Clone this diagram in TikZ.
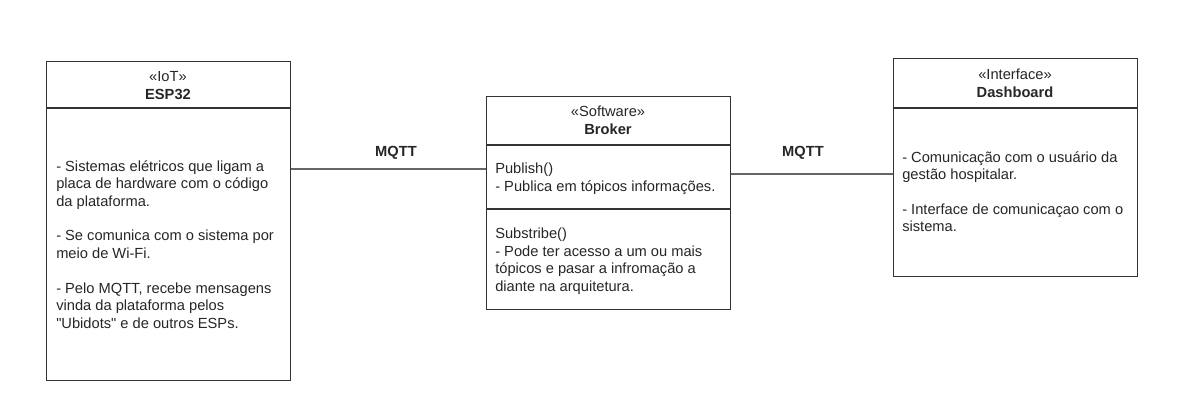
\documentclass[tikz,border=0pt]{standalone}
\usepackage{fontspec}
\setmainfont{Liberation Sans}
\begin{document}
\begin{tikzpicture}[x=0.75pt, y=-0.75pt,
    umlbox/.style={rectangle, draw=black!80, line width=1.1pt, minimum width=183pt, inner sep=0pt, anchor=north west},
    sepline/.style={draw=black!80, line width=1.1pt},
    header/.style={align=center, inner sep=0pt, text=black!85, font=\fontsize{11}{13.5}\selectfont},
    bodytext/.style={align=left, inner sep=0pt, anchor=north west, text=black!85, font=\fontsize{11}{13.1}\selectfont},
    link/.style={draw=black!60, line width=0.8pt},
    linklabel/.style={inner sep=0pt, text=black!85, font=\fontsize{11}{13}\selectfont\bfseries}]
    \useasboundingbox (0,0) rectangle (1177,412);

    % Boxes
    \node[umlbox, minimum height=239.25pt] (esp) at (46,61) {};
    \node[umlbox, minimum height=159.75pt] (broker) at (486,96) {};
    \node[umlbox, minimum height=163.5pt] (dash) at (893,58) {};

    % Compartment lines
    \draw[sepline] (esp.north west) ++(0,47) -- ++(244,0);
    \draw[sepline] (broker.north west) ++(0,49) -- ++(244,0);
    \draw[sepline] (broker.north west) ++(0,113) -- ++(244,0);
    \draw[sepline] (dash.north west) ++(0,50) -- ++(244,0);

    % Headers
    \node[header] (espname) at (168,85.5) {«IoT»\\\textbf{ESP32}};
    \node[header] (brokername) at (608,120.5) {«Software»\\\textbf{Broker}};
    \node[header] (dashname) at (1015,83) {«Interface»\\\textbf{Dashboard}};

    % Contents
    \node[bodytext] (espbody) at (56,160) {- Sistemas elétricos que ligam a\\placa de hardware com o código\\da plataforma.\\[13.1pt]- Se comunica com o sistema por\\meio de Wi-Fi.\\[13.1pt]- Pelo MQTT, recebe mensagens\\vinda da plataforma pelos\\\textquotedbl Ubidots\textquotedbl{} e de outros ESPs.};
    \node[bodytext] (publish) at (495,163) {Publish()\\- Publica em tópicos informações.};
    \node[bodytext] (subscribe) at (495,228) {Substribe()\\- Pode ter acesso a um ou mais\\tópicos e pasar a infromação a\\diante na arquitetura.};
    \node[bodytext] (dashbody) at (902,151) {- Comunicação com o usuário da\\gestão hospitalar.\\[13.1pt]- Interface de comunicaçao com o\\sistema.};

    % Connections
    \coordinate (linkA) at (0,169);
    \coordinate (linkB) at (0,174);
    \draw[link] (esp.east |- linkA) -- (broker.west |- linkA);
    \draw[link] (broker.east |- linkB) -- (dash.west |- linkB);
    \node[linklabel] (mqttA) at (396,153) {MQTT};
    \node[linklabel] (mqttB) at (803,153) {MQTT};
\end{tikzpicture}
\end{document}
